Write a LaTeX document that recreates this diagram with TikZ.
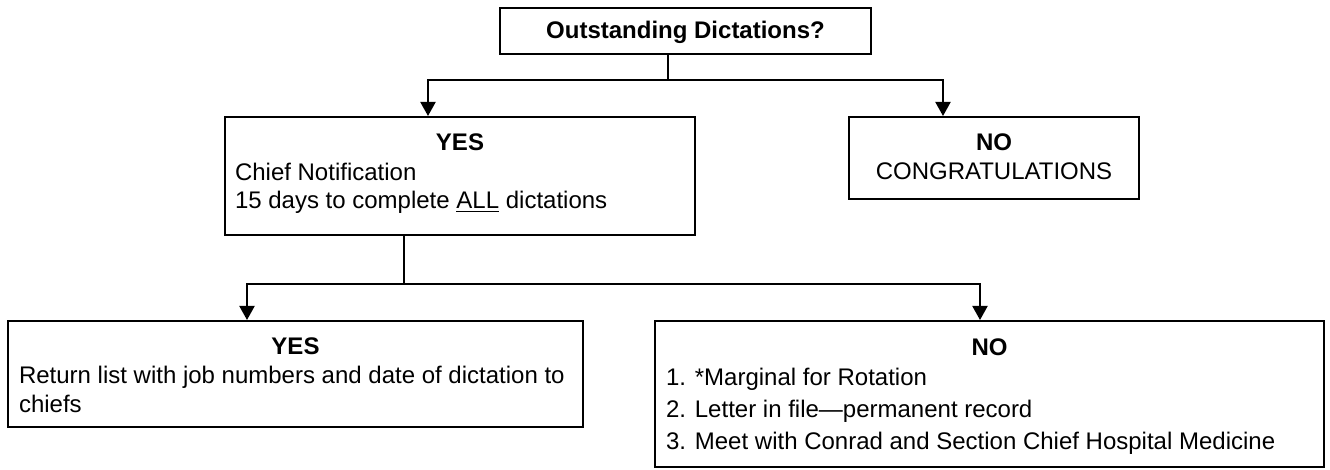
\documentclass[tikz,border=0pt]{standalone}
\usepackage{fontspec}
\setmainfont{Liberation Sans}
\usetikzlibrary{arrows.meta,fit}

\begin{document}
\begin{tikzpicture}[x=0.5pt,y=-0.5pt,>={Triangle[length=7pt,width=7.5pt]},line width=1pt]
  \tikzstyle{box}=[draw,rectangle,inner sep=0pt]
  \tikzstyle{txt}=[inner sep=0pt,font=\fontsize{12pt}{14pt}\selectfont]
  \tikzstyle{head}=[txt,font=\fontsize{12pt}{14pt}\selectfont\bfseries]
  \useasboundingbox (0,0) rectangle (1330,470);
  % boxes
  \node [box,fit={(500,8) (871,54)}] (ask) {};
  \node [box,fit={(225,117) (695,235)}] (yes) {};
  \node [box,fit={(849,117) (1139,199)}] (no) {};
  \node [box,fit={(8,321) (583,427)}] (yesb) {};
  \node [box,fit={(655,321) (1324,467)}] (nob) {};
  % texts
  \node [head,anchor=base] (askt) at (685.5,39) {Outstanding Dictations?};
  \node [head,anchor=base] (yest) at (460,151) {YES};
  \node [txt,anchor=base west] (yes1) at (234,181) {Chief Notification};
  \node [txt,anchor=base west] (yes2) at (234,209) {15 days to complete \underline{ALL} dictations};
  \node [head,anchor=base] (not) at (994,151) {NO};
  \node [txt,anchor=base] (no1) at (994,180) {CONGRATULATIONS};
  \node [head,anchor=base] (yesbt) at (295.5,355) {YES};
  \node [txt,anchor=base west] (yesb1) at (18,384) {Return list with job numbers and date of dictation to};
  \node [txt,anchor=base west] (yesb2) at (18,413) {chiefs};
  \node [head,anchor=base] (nobt) at (989.5,356) {NO};
  \foreach \t [count=\i] in {1. *Marginal for Rotation,
      2. Letter in file---permanent record,
      3. Meet with Conrad and Section Chief Hospital Medicine}
    \node [txt,anchor=base west] (nob\i) at (665,{354+32*\i}) {\t};
  % connectors
  \coordinate (j1) at (668,80);
  \coordinate (j2) at (404,284);
  \draw (j1 |- ask.south) -- (j1);
  \draw [->] (j1) -| ([xshift=-16pt]yes.north);
  \draw [->] (j1) -| ([xshift=-25.5pt]no.north);
  \draw (j2 |- yes.south) -- (j2);
  \draw [->] (j2) -| ([xshift=-24.25pt]yesb.north);
  \draw [->] (j2) -| ([xshift=-4.75pt]nob.north);
\end{tikzpicture}
\end{document}
